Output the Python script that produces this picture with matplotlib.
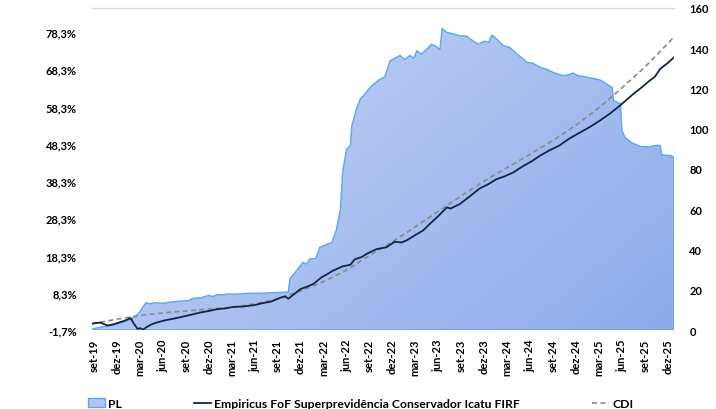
import numpy as np
import matplotlib
matplotlib.use('Agg')
import matplotlib.pyplot as plt
from matplotlib.colors import LinearSegmentedColormap
from matplotlib.patches import Polygon, Patch
from matplotlib.lines import Line2D

# ---------------- data ----------------
tick_months = [0, 3, 6, 9, 12, 15, 18, 21, 24, 27, 30, 33, 36, 39, 42, 45, 48,
               51, 54, 57, 60, 63, 66, 69, 72, 75]
tick_labels = ['set-19', 'dez-19', 'mar-20', 'jun-20', 'set-20', 'dez-20',
               'mar-21', 'jun-21', 'set-21', 'dez-21', 'mar-22', 'jun-22',
               'set-22', 'dez-22', 'mar-23', 'jun-23', 'set-23', 'dez-23',
               'mar-24', 'jun-24', 'set-24', 'dez-24', 'mar-25', 'jun-25',
               'set-25', 'dez-25']

# PL (right axis), x = months since set-19
pl_month = [-0.26, 1.0, 2.5, 4.0, 4.84, 5.5, 6.0, 6.4, 6.8, 7.4, 8.0, 9.0, 10.0,
            11.0, 12.3, 13.0, 14.0, 15.0, 15.6, 16.0, 16.6, 17.5, 18.5, 20.0,
            22.0, 24.0, 25.4, 25.6, 26.3, 27.3, 27.8, 28.2, 29.0, 29.5, 30.3,
            31.1, 31.7, 32.2, 32.5, 33.0, 33.5, 33.7, 34.3, 34.8, 35.2, 36.3,
            37.4, 38.0, 38.7, 39.3, 40.0, 40.6, 41.3, 41.8, 42.2, 42.8, 43.5,
            44.1, 44.7, 45.2, 45.5, 46.1, 46.8, 47.8, 48.7, 49.4, 50.2, 51.0,
            51.6, 52.0, 52.6, 53.5, 54.3, 55.3, 56.0, 56.6, 57.4, 58.3, 59.2,
            60.0, 61.3, 62.0, 62.6, 63.2, 63.9, 64.8, 65.7, 66.3, 67.0, 67.7,
            67.9, 68.8, 69.0, 69.4, 70.3, 71.4, 72.5, 73.5, 74.0, 74.2, 75.0,
            75.5, 75.8]
pl_value = [0.5, 1.5, 2.5, 4.0, 5.5, 7.0, 9.0, 11.5, 13.5, 13.0, 13.6, 13.2, 13.9,
            14.3, 14.6, 15.8, 16.0, 17.2, 16.6, 17.6, 17.4, 17.9, 17.8, 18.2,
            18.3, 18.6, 18.9, 25.5, 28.7, 33.6, 32.8, 35.3, 35.6, 41.1, 42.3,
            43.6, 50.2, 60.1, 78.4, 89.9, 91.6, 101.5, 109.8, 114.8, 116.4, 121.4,
            124.7, 125.7, 133.8, 135.0, 136.4, 134.5, 136.4, 135.0, 138.8, 137.0,
            139.6, 142.0, 141.0, 139.3, 149.8, 147.9, 147.3, 146.2, 146.0, 144.0,
            142.0, 143.5, 143.0, 146.6, 144.6, 141.3, 140.5, 137.1, 135.0, 133.0,
            132.5, 130.5, 129.5, 128.0, 126.4, 126.8, 127.7, 126.5, 126.0, 125.3,
            124.7, 124.0, 122.2, 120.6, 114.0, 112.5, 99.0, 95.7, 93.0, 91.2,
            91.0, 91.8, 91.6, 87.0, 86.8, 86.6, 85.5]

# Fund cumulative return (left axis, %)
fund_month = [-0.26, 0.8, 1.8, 2.5, 3.1, 4.0, 4.8, 5.2, 5.7, 6.0, 6.4, 6.9, 7.5,
              8.2, 9.3, 10.3, 11.2, 12.5, 13.9, 15.0, 16.1, 17.2, 18.2, 19.5,
              21.0, 22.0, 23.1, 24.4, 25.0, 25.4, 26.2, 27.0, 27.8, 28.7, 29.7,
              30.5, 31.2, 32.5, 33.5, 34.1, 35.0, 35.6, 36.9, 38.2, 39.3, 40.2,
              40.9, 42.0, 43.0, 43.9, 45.0, 46.1, 46.6, 47.8, 49.0, 50.4, 51.5,
              52.6, 53.6, 54.8, 56.0, 57.2, 58.3, 59.5, 60.8, 62.2, 63.5, 64.8,
              66.1, 67.5, 69.0, 70.5, 71.5, 72.6, 73.3, 74.0, 75.0, 75.8]
fund_pct = [0.0, 0.3, -0.5, -0.2, 0.2, 0.8, 1.5, 0.0, -1.4, -1.2, -1.6, -0.9,
            -0.2, 0.3, 0.9, 1.3, 1.7, 2.3, 3.0, 3.4, 3.9, 4.1, 4.5, 4.6, 5.0,
            5.5, 5.9, 7.0, 7.3, 6.7, 8.0, 9.3, 9.9, 10.7, 12.4, 13.3, 14.2, 15.4,
            15.8, 17.3, 17.9, 18.7, 20.0, 20.5, 22.0, 21.8, 22.4, 23.8, 25.0,
            26.8, 28.9, 31.2, 30.9, 32.1, 34.0, 36.3, 37.4, 38.8, 39.5, 40.6,
            42.2, 43.6, 45.1, 46.5, 47.8, 49.8, 51.3, 52.8, 54.5, 56.5, 59.0,
            61.7, 63.3, 65.2, 66.3, 68.4, 70.0, 71.5]

# CDI cumulative (left axis, %)
cdi_month = [-0.26, 3, 6, 9, 12, 15, 18, 21, 24, 27, 30, 33, 36, 39, 42, 45, 48,
             51, 54, 57, 60, 63, 66, 69, 72, 75, 75.8]
cdi_pct = [0.0, 1.2, 2.2, 2.9, 3.4, 3.9, 4.4, 5.3, 6.7, 8.8, 11.3, 14.4, 18.3,
           22.0, 26.0, 30.2, 34.3, 38.3, 41.9, 45.5, 49.2, 53.3, 58.0, 63.3,
           68.9, 75.2, 77.0]

left_ticks = [-1.7, 8.3, 18.3, 28.3, 38.3, 48.3, 58.3, 68.3, 78.3]
right_ticks = [0, 20, 40, 60, 80, 100, 120, 140, 160]

# ---------------- style ----------------
plt.rcParams['font.family'] = ['Lato', 'DejaVu Sans']
plt.rcParams['font.weight'] = 'bold'
FS = 8
LFS = 8.8
edge_col = '#5aa9ef'
fund_col = '#0f2747'
cdi_col = '#8a8a8a'
light_fill = '#c8d6f5'
dark_fill = '#8dabeb'

fig = plt.figure(figsize=(7.16, 4.10), dpi=100)
W, H = 716, 410
ax = fig.add_axes([92 / W, 1 - 331 / H, (674 - 92) / W, (331 - 9) / H])
ax2 = ax.twinx()

xmin, xmax = pl_month[0], pl_month[-1]
ax.set_xlim(xmin, xmax)
ax.set_ylim(0, 160)
ax2.set_ylim(-1.7, 84.74)

# PL area with gradient
verts = list(zip(pl_month, pl_value)) + [(pl_month[-1], 0), (pl_month[0], 0)]
poly = Polygon(verts, closed=True, facecolor='none', edgecolor=edge_col,
               linewidth=1.0, zorder=3)
ax.add_patch(poly)
ny, nx = 200, 400
u = np.linspace(0, 1, nx)[None, :]
v = np.linspace(0, 1, ny)[:, None]
g = (u * 0.6 + (1 - v) * 0.4)
cmap = LinearSegmentedColormap.from_list('g', [light_fill, dark_fill])
im = ax.imshow(g, extent=[xmin, xmax, 0, 160], origin='lower', aspect='auto',
               cmap=cmap, vmin=0, vmax=1, zorder=2, interpolation='bilinear')
clip = Polygon(verts, closed=True, transform=ax.transData)
im.set_clip_path(clip)

# lines
ax2.plot(cdi_month, cdi_pct, color=cdi_col, lw=1.2, linestyle=(0, (3, 2)), zorder=4)
ax2.plot(fund_month, fund_pct, color=fund_col, lw=1.3, zorder=5)

# axes formatting
ax.yaxis.tick_right()
ax2.yaxis.tick_left()
ax.set_yticks(right_ticks)
ax.set_yticklabels([str(t) for t in right_ticks])
ax2.set_yticks(left_ticks)
ax2.set_yticklabels([f"{t:.1f}%".replace('.', ',') for t in left_ticks])
ax.set_xticks(tick_months)
ax.set_xticklabels(tick_labels, rotation=90)
ax.tick_params(axis='y', length=0, pad=11, labelsize=FS, labelright=True, labelleft=False)
ax2.tick_params(axis='y', length=0, pad=11, labelsize=FS, labelleft=True, labelright=False)
ax.tick_params(axis='x', length=0, pad=6, labelsize=FS)

for a in (ax, ax2):
    for s in ('left', 'right', 'bottom', 'top'):
        a.spines[s].set_visible(False)
ax.spines['top'].set_visible(True)
ax.spines['top'].set_color('#d9d9d9')
ax.spines['top'].set_linewidth(1.0)

# legend
handles = [Patch(facecolor='#b3c6f1', edgecolor=edge_col, linewidth=1.0),
           Line2D([], [], color=fund_col, lw=1.3),
           Line2D([], [], color=cdi_col, lw=1.2, linestyle=(0, (3, 2)))]
labels = ['PL', 'Empiricus FoF Superprevidência Conservador Icatu FIRF', 'CDI']
fig.legend(handles, labels, loc='lower left', bbox_to_anchor=(88 / W, 0.0),
           ncol=3, frameon=False, fontsize=LFS, handlelength=1.4,
           handleheight=0.75, handletextpad=0.25, columnspacing=5.9,
           borderpad=0, borderaxespad=0)

fig.savefig('out.png', dpi=100)
